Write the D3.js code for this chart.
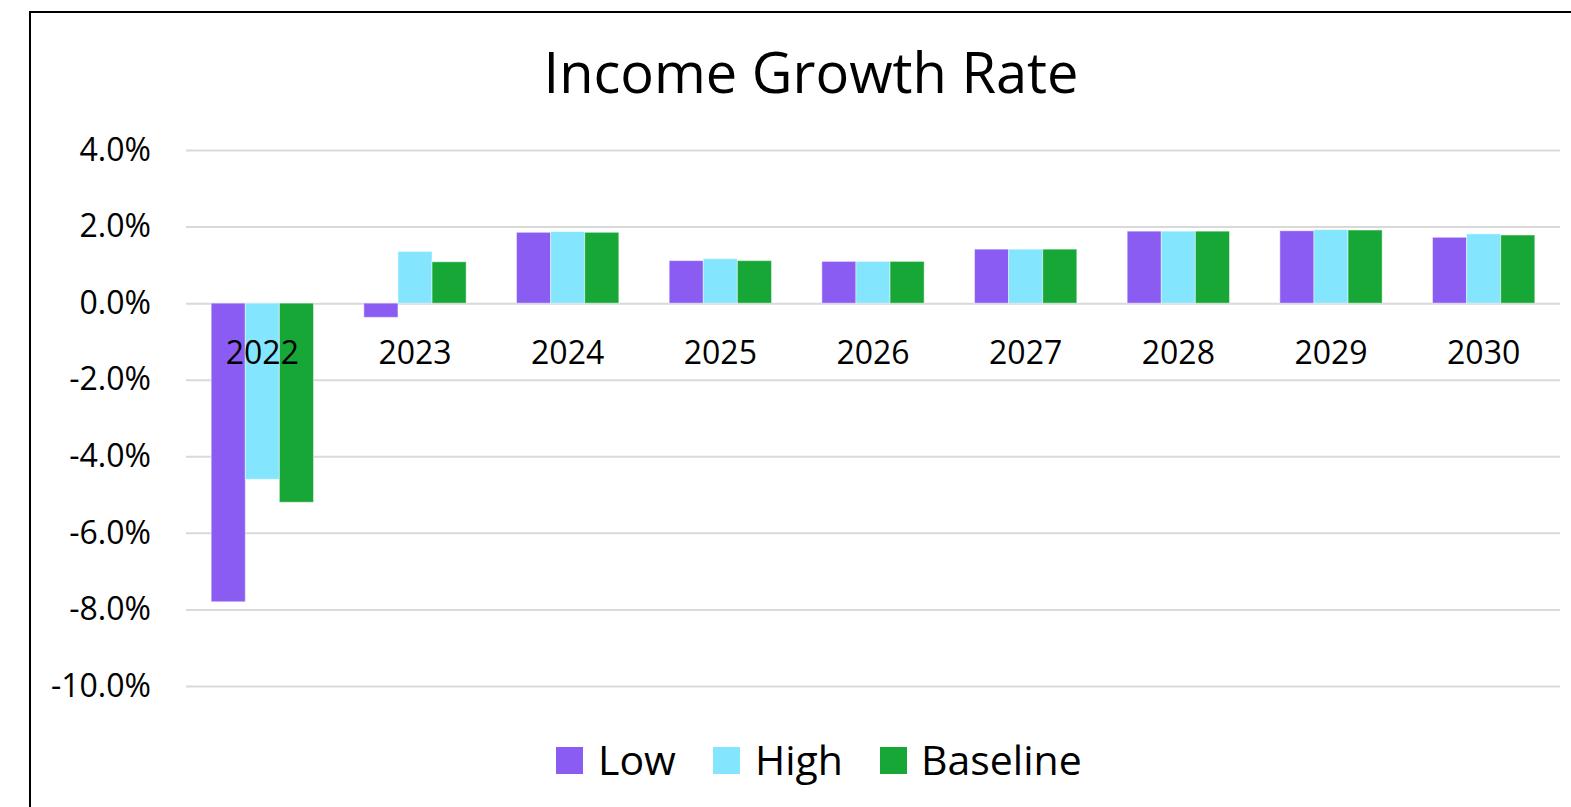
<!DOCTYPE html>
<html>
<head>
<meta charset="utf-8">
<script src="https://cdn.jsdelivr.net/npm/d3@7"></script>
<style>
  html, body { margin: 0; padding: 0; background: #fff; overflow: hidden; }
  svg { display: block; font-family: "Open Sans", sans-serif; }
</style>
</head>
<body>
<svg id="chart" width="1571" height="807"></svg>
<script>
// Annual income growth rate (%) by scenario
const years = ["2022", "2023", "2024", "2025", "2026", "2027", "2028", "2029", "2030"];
const seriesNames = ["Low", "High", "Baseline"];
const lowValues      = [-7.8, -0.37, 1.85, 1.11, 1.09, 1.41, 1.88, 1.89, 1.72];
const highValues     = [-4.6,  1.35, 1.87, 1.16, 1.09, 1.41, 1.88, 1.92, 1.81];
const baselineValues = [-5.2,  1.08, 1.85, 1.11, 1.09, 1.41, 1.88, 1.91, 1.78];
const yTicks = [4, 2, 0, -2, -4, -6, -8, -10];
const colors = ["#8b5cf2", "#84e6fe", "#17a737"];

const seriesValues = [lowValues, highValues, baselineValues];
const rows = years.map((year, i) => ({
  year,
  values: seriesNames.map((name, s) => ({ name, value: seriesValues[s][i] }))
}));

const svg = d3.select("#chart");

// outer frame of the chart area
svg.append("rect")
  .attr("x", 30).attr("y", 12)
  .attr("width", 1600).attr("height", 900)
  .attr("fill", "#fff")
  .attr("stroke", "#000").attr("stroke-width", 2);

const plot = { left: 186, right: 1560, top: 150, bottom: 686 };

const x = d3.scaleBand()
  .domain(years)
  .range([plot.left, plot.right])
  .paddingInner(0.33)
  .paddingOuter(0.165);

const xInner = d3.scaleBand()
  .domain(seriesNames)
  .range([0, x.bandwidth()]);

const y = d3.scaleLinear()
  .domain([-10, 4])
  .range([plot.bottom, plot.top]);

const color = d3.scaleOrdinal().domain(seriesNames).range(colors);

// title
svg.append("text")
  .attr("x", 811).attr("y", 93)
  .attr("text-anchor", "middle")
  .attr("font-size", 56)
  .attr("fill", "#000")
  .text("Income Growth Rate");

// horizontal gridlines + y labels
const yAxis = d3.axisLeft(y)
  .tickValues(yTicks)
  .tickSize(-(plot.right - plot.left))
  .tickPadding(35)
  .tickFormat(d => d.toFixed(1) + "%");

const gy = svg.append("g")
  .attr("transform", `translate(${plot.left},0)`)
  .call(yAxis);
gy.select(".domain").remove();
gy.selectAll(".tick line").attr("stroke", "#d9d9d9").attr("stroke-width", 2);
gy.selectAll(".tick text")
  .attr("font-size", 32)
  .attr("font-family", "'Open Sans', sans-serif")
  .attr("fill", "#000");

// bars
const groups = svg.append("g").selectAll("g")
  .data(rows)
  .join("g")
  .attr("transform", d => `translate(${x(d.year)},0)`);

groups.selectAll("rect")
  .data(d => d.values)
  .join("rect")
  .attr("x", d => xInner(d.name))
  .attr("width", xInner.bandwidth())
  .attr("y", d => y(Math.max(0, d.value)))
  .attr("height", d => Math.abs(y(d.value) - y(0)))
  .attr("fill", d => color(d.name))
  .attr("stroke", "#ffffff")
  .attr("stroke-opacity", 0.45)
  .attr("stroke-width", 1);

// category labels sit just below the zero line
const xAxis = d3.axisBottom(x).tickSize(0).tickPadding(0);
const gx = svg.append("g")
  .attr("transform", `translate(0,${y(0)})`)
  .call(xAxis);
gx.select(".domain").remove();
gx.selectAll(".tick text")
  .attr("font-size", 32)
  .attr("font-family", "'Open Sans', sans-serif")
  .attr("fill", "#000")
  .attr("dy", null)
  .attr("y", 61);

// legend
const legendItems = [
  { name: "Low", sx: 556, tx: 598 },
  { name: "High", sx: 713, tx: 755 },
  { name: "Baseline", sx: 880, tx: 921 }
];
const legend = svg.append("g");
legend.selectAll("rect")
  .data(legendItems)
  .join("rect")
  .attr("x", d => d.sx).attr("y", 747)
  .attr("width", 27).attr("height", 27)
  .attr("fill", d => color(d.name));
legend.selectAll("text")
  .data(legendItems)
  .join("text")
  .attr("x", d => d.tx).attr("y", 775)
  .attr("font-size", 41)
  .attr("fill", "#000")
  .text(d => d.name);
</script>
</body>
</html>
